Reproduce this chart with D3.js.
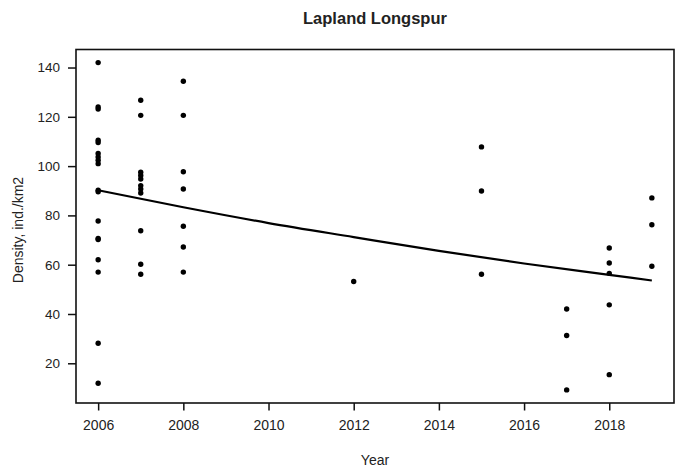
<!DOCTYPE html>
<html>
<head>
<meta charset="utf-8">
<script src="https://cdn.jsdelivr.net/npm/d3@7"></script>
<style>
  html, body { margin: 0; padding: 0; background: #fff; }
  svg { display: block; }
  text { font-family: "Liberation Sans", Arial, sans-serif; fill: #222; }
</style>
</head>
<body>
<svg id="chart" width="678" height="469"></svg>
<script>
const title = "Lapland Longspur";
const xLabel = "Year";
const yLabel = "Density, ind./km2";

const obsYear = [
  2006,2006,2006,2006,2006,2006,2006,2006,2006,2006,2006,2006,2006,2006,2006,2006,2006,2006,
  2007,2007,2007,2007,2007,2007,2007,2007,2007,2007,2007,
  2008,2008,2008,2008,2008,2008,2008,
  2012,
  2015,2015,2015,
  2017,2017,2017,
  2018,2018,2018,2018,2018,
  2019,2019,2019
];
const obsDensity = [
  142.0,124.0,123.2,110.5,109.6,105.1,103.7,102.4,101.0,90.2,89.6,77.7,70.6,70.2,62.0,57.0,28.1,11.9,
  126.7,120.6,97.5,96.2,94.8,92.1,90.7,89.1,73.8,60.2,56.1,
  134.4,120.6,97.7,90.7,75.6,67.2,57.0,
  53.2,
  107.8,89.9,56.1,
  42.0,31.3,9.2,
  66.8,60.7,56.5,43.7,15.4,
  87.1,76.2,59.4
];

const trendYear = [2006, 2008, 2010, 2012, 2014, 2016, 2018, 2019];
const trendDensity = [90.2, 83.3, 76.9, 71.2, 65.6, 60.5, 55.9, 53.6];

const xTicks = [2006, 2008, 2010, 2012, 2014, 2016, 2018];
const yTicks = [20, 40, 60, 80, 100, 120, 140];

(function () {
const svg = d3.select("#chart");
const pL = 76, pR = 674, pT = 49.5, pB = 403;

function ext(arr) {
  const [a, b] = d3.extent(arr);
  const p = (b - a) * 0.04;
  return [a - p, b + p];
}

const x = d3.scaleLinear().domain(ext(obsYear)).range([pL, pR]);
const y = d3.scaleLinear().domain(ext(obsDensity)).range([pB, pT]);

const xAxis = svg.append("g")
  .attr("transform", `translate(0,${pB})`)
  .call(d3.axisBottom(x).tickValues(xTicks).tickFormat(d3.format("d")).tickSize(7.5).tickPadding(10));
const yAxis = svg.append("g")
  .attr("transform", `translate(${pL},0)`)
  .call(d3.axisLeft(y).tickValues(yTicks).tickSize(8).tickPadding(8));

[xAxis, yAxis].forEach(g => {
  g.select(".domain").remove();
  g.selectAll(".tick line").attr("stroke", "#111").attr("stroke-width", 1.5);
  g.selectAll(".tick text").attr("fill", "#222")
    .style("font-family", "'Liberation Sans', Arial, sans-serif");
});
xAxis.selectAll(".tick text").attr("font-size", 14);
yAxis.selectAll(".tick text").attr("font-size", 13.5);

svg.append("rect")
  .attr("x", pL).attr("y", pT)
  .attr("width", pR - pL).attr("height", pB - pT)
  .attr("fill", "none").attr("stroke", "#111").attr("stroke-width", 1.6);

const line = d3.line().x(d => x(d[0])).y(d => y(d[1])).curve(d3.curveMonotoneX);
svg.append("path")
  .datum(trendYear.map((t, i) => [t, trendDensity[i]]))
  .attr("d", line)
  .attr("fill", "none").attr("stroke", "#000").attr("stroke-width", 2.2);

svg.append("g").selectAll("circle")
  .data(obsYear.map((t, i) => [t, obsDensity[i]]))
  .join("circle")
  .attr("cx", d => x(d[0]))
  .attr("cy", d => y(d[1]))
  .attr("r", 2.7)
  .attr("fill", "#000");

svg.append("text")
  .attr("x", (pL + pR) / 2).attr("y", 24)
  .attr("text-anchor", "middle")
  .attr("font-size", 16.5).attr("font-weight", "bold")
  .text(title);

svg.append("text")
  .attr("x", (pL + pR) / 2).attr("y", 465)
  .attr("text-anchor", "middle")
  .attr("font-size", 14)
  .text(xLabel);

svg.append("text")
  .attr("transform", `translate(23,230) rotate(-90)`)
  .attr("text-anchor", "middle")
  .attr("font-size", 14)
  .text(yLabel);
})();
</script>
</body>
</html>
